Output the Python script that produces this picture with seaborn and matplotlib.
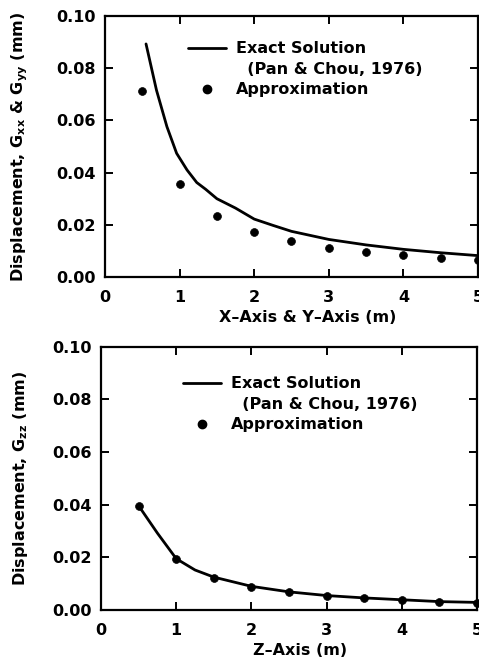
import matplotlib
matplotlib.use("Agg")
import matplotlib.pyplot as plt
from matplotlib.lines import Line2D
import seaborn as sns
import pandas as pd

# Horizontal displacement along the X / Y axes
xy_exact_x = [0.55, 0.69, 0.83, 0.96, 1.1, 1.23, 1.35, 1.5, 1.75, 2.0, 2.25,
              2.5, 3.0, 3.5, 4.0, 4.5, 5.0]
xy_exact_g = [0.0893, 0.0716, 0.0576, 0.0474, 0.0410, 0.0362, 0.0336, 0.0300,
              0.0264, 0.0222, 0.0198, 0.0175, 0.0144, 0.0123, 0.0106, 0.0093,
              0.0082]
xy_approx_x = [0.5, 1.0, 1.5, 2.0, 2.5, 3.0, 3.5, 4.0, 4.5, 5.0]
xy_approx_g = [0.0714, 0.0358, 0.0234, 0.0174, 0.0138, 0.0110, 0.0095,
               0.0083, 0.0073, 0.0065]

# Vertical displacement along the Z axis
z_exact_x = [0.5, 0.75, 1.0, 1.25, 1.5, 2.0, 2.5, 3.0, 3.5, 4.0, 4.5, 5.0]
z_exact_g = [0.0396, 0.0292, 0.0195, 0.0152, 0.0125, 0.0090, 0.0069,
             0.0055, 0.0046, 0.0039, 0.0032, 0.0029]
z_approx_x = [0.5, 1.0, 1.5, 2.0, 2.5, 3.0, 3.5, 4.0, 4.5, 5.0]
z_approx_g = [0.0396, 0.0192, 0.0123, 0.0089, 0.0068, 0.0053, 0.0046,
              0.0038, 0.0030, 0.0028]

x_ticks = [0, 1, 2, 3, 4, 5]
y_ticks = [0.00, 0.02, 0.04, 0.06, 0.08, 0.10]

sns.set_theme(style="ticks")
plt.rcParams["font.family"] = ["DejaVu Sans"]
plt.rcParams["font.weight"] = "bold"
plt.rcParams["mathtext.fontset"] = "dejavusans"
plt.rcParams["mathtext.default"] = "bf"
for key in ("text.color", "axes.labelcolor", "xtick.color", "ytick.color",
            "axes.edgecolor"):
    plt.rcParams[key] = "black"

FS = 11.5
fig = plt.figure(figsize=(4.79, 6.58), dpi=100)
ax1 = fig.add_axes([0.2192, 0.579, 0.7787, 0.3967])
ax2 = fig.add_axes([0.2109, 0.0729, 0.7850, 0.4002])


def draw(ax, ex_x, ex_g, ap_x, ap_g):
    sns.lineplot(data=pd.DataFrame({"x": ex_x, "g": ex_g}), x="x", y="g",
                 ax=ax, color="black", linewidth=2.0, sort=False)
    sns.scatterplot(data=pd.DataFrame({"x": ap_x, "g": ap_g}), x="x", y="g",
                    ax=ax, color="black", s=32, edgecolor="black",
                    linewidth=0.5, zorder=3, clip_on=False)
    ax.set_xlim(0, 5)
    ax.set_ylim(0, 0.10)
    ax.set_xticks(x_ticks)
    ax.set_xticklabels([str(t) for t in x_ticks])
    ax.set_yticks(y_ticks)
    ax.set_yticklabels([f"{t:.2f}" for t in y_ticks])
    ax.tick_params(direction="in", length=6, width=1.4, top=True, right=True,
                   labelsize=FS, colors="black")
    ax.tick_params(axis="x", pad=9)
    ax.tick_params(axis="y", pad=7)
    for sp in ax.spines.values():
        sp.set_visible(True)
        sp.set_linewidth(1.6)
        sp.set_color("black")
    handles = [
        Line2D([], [], color="black", linewidth=2.0),
        Line2D([], [], linestyle="none"),
        Line2D([], [], color="black", marker="o", linestyle="none",
               markersize=6),
    ]
    labels = ["Exact Solution", "  (Pan & Chou, 1976)", "Approximation"]
    return handles, labels


h, l = draw(ax1, xy_exact_x, xy_exact_g, xy_approx_x, xy_approx_g)
ax1.legend(h, l, loc="upper left", bbox_to_anchor=(0.2225, 0.903),
           frameon=False, fontsize=FS, handlelength=2.4, handletextpad=0.6,
           labelspacing=0.34, borderpad=0, borderaxespad=0)
ax1.set_xlabel("X–Axis & Y–Axis (m)", fontsize=FS, fontweight="bold")
ax1.set_ylabel(r"Displacement, G$_{xx}$ & G$_{yy}$ (mm)", fontsize=FS,
               fontweight="bold")
ax1.xaxis.set_label_coords(0.544, -0.126)
ax1.yaxis.set_label_coords(-0.201, 0.5)

h, l = draw(ax2, z_exact_x, z_exact_g, z_approx_x, z_approx_g)
ax2.legend(h, l, loc="upper left", bbox_to_anchor=(0.218, 0.887),
           frameon=False, fontsize=FS, handlelength=2.4, handletextpad=0.6,
           labelspacing=0.34, borderpad=0, borderaxespad=0)
ax2.set_xlabel("Z–Axis (m)", fontsize=FS, fontweight="bold")
ax2.set_ylabel(r"Displacement, G$_{zz}$ (mm)", fontsize=FS, fontweight="bold")
ax2.xaxis.set_label_coords(0.529, -0.125)
ax2.yaxis.set_label_coords(-0.189, 0.5)

fig.savefig("out.png", dpi=100, facecolor="white")
